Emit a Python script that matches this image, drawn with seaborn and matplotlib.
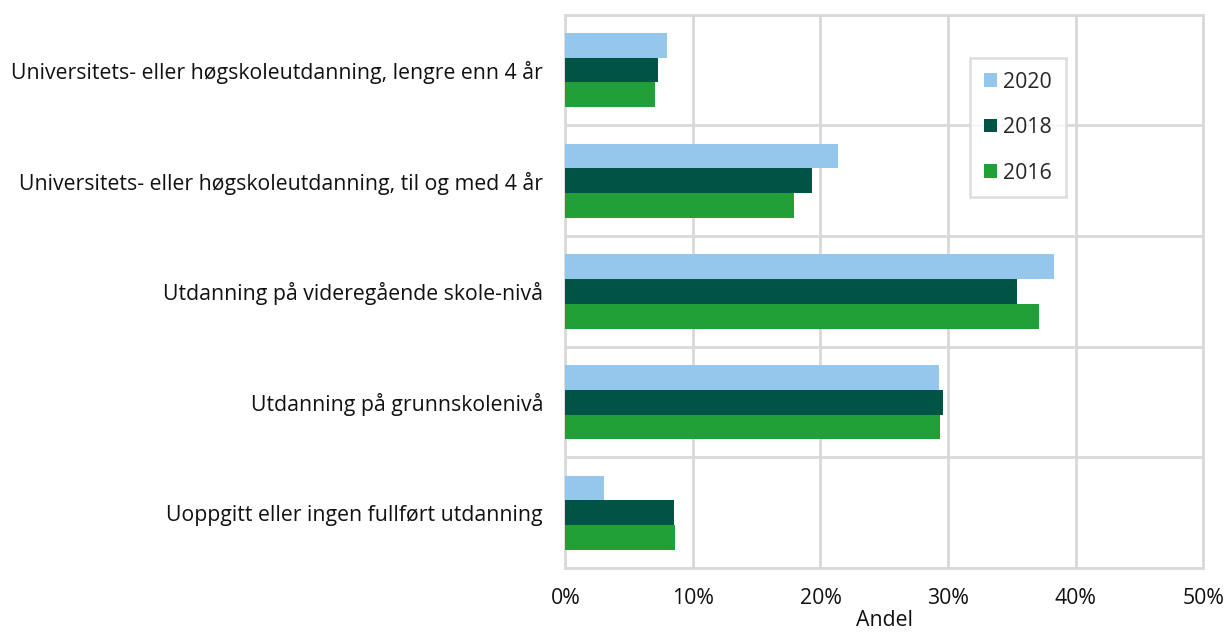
import numpy as np
import pandas as pd
import matplotlib.pyplot as plt
import seaborn as sns
from matplotlib.ticker import FuncFormatter, FixedLocator

categories = ['Universitets- eller høgskoleutdanning, lengre enn 4 år',
              'Universitets- eller høgskoleutdanning, til og med 4 år',
              'Utdanning på videregående skole-nivå',
              'Utdanning på grunnskolenivå',
              'Uoppgitt eller ingen fullført utdanning']
years = ['2020', '2018', '2016']
share_2020 = [8.0, 21.4, 38.3, 29.3, 3.0]
share_2018 = [7.3, 19.3, 35.4, 29.6, 8.5]
share_2016 = [7.0, 17.9, 37.1, 29.4, 8.6]
year_colors = ['#95c6eb', '#005445', '#21a038']

GRID_COLOR = '#d9d9d9'
FS = 15.3

df = pd.DataFrame({
    'Kategori': categories * 3,
    'Aar': [y for y in years for _ in categories],
    'Andel': share_2020 + share_2018 + share_2016,
})

sns.set_style('white')
plt.rcParams['font.family'] = ['Open Sans', 'DejaVu Sans']

fig, ax = plt.subplots(figsize=(12.29, 6.37), dpi=100)
fig.subplots_adjust(left=0.46, right=0.979, top=0.977, bottom=0.108)

sns.barplot(data=df, y='Kategori', x='Andel', hue='Aar', hue_order=years,
            order=categories, palette=year_colors, orient='h', width=0.67,
            saturation=1, linewidth=0, ax=ax, zorder=3)

ax.set_xlim(0, 50)
ax.set_ylim(4.5, -0.5)
ax.xaxis.set_major_locator(FixedLocator([0, 10, 20, 30, 40, 50]))
ax.xaxis.set_major_formatter(FuncFormatter(lambda v, p: '%d%%' % v))
ax.yaxis.set_minor_locator(FixedLocator(np.arange(-0.5, 5, 1.0)))
ax.grid(axis='x', which='major', color=GRID_COLOR, linewidth=2, zorder=0)
ax.grid(axis='y', which='minor', color=GRID_COLOR, linewidth=2, zorder=0)
ax.tick_params(axis='both', which='both', length=0, labelsize=FS, colors='#111111')
ax.tick_params(axis='x', pad=14)
ax.tick_params(axis='y', pad=16)
for s in ax.spines.values():
    s.set_color(GRID_COLOR)
    s.set_linewidth(2)

ax.set_ylabel('')
ax.set_xlabel('Andel', fontsize=FS, labelpad=1, color='#111111')

handles, labels = ax.get_legend_handles_labels()
leg = ax.legend(handles, labels, loc='upper left', bbox_to_anchor=(0.635, 0.922),
                fontsize=FS, frameon=True, fancybox=False, edgecolor=GRID_COLOR,
                handlelength=0.6, handleheight=0.6, handletextpad=0.3,
                labelspacing=1.15, borderpad=0.65, borderaxespad=0)
leg.get_frame().set_linewidth(2)

fig.savefig('out.png', dpi=100)
